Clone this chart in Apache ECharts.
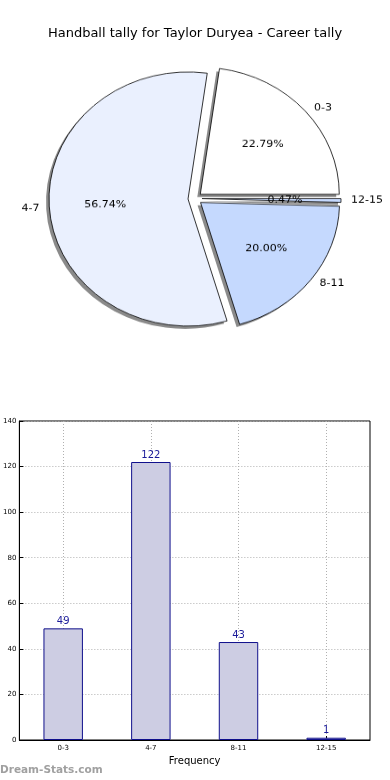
<!DOCTYPE html>
<html>
<head>
<meta charset="utf-8">
<script src="https://cdn.jsdelivr.net/npm/echarts@6/dist/echarts.min.js"></script>
<style>
html,body{margin:0;padding:0;background:#fff;}
#main{position:absolute;left:0;top:0;width:390px;height:780px;}
#pie{position:absolute;left:0;top:0;width:390px;height:400px;transform-origin:50% 200px;transform:scaleY(0.914);}
</style>
</head>
<body>
<div id="main"></div>
<div id="pie"></div>
<script>
const titleText = 'Handball tally for Taylor Duryea - Career tally';
const categories = ['0-3', '4-7', '8-11', '12-15'];
const counts = [49, 122, 43, 1];
const sliceColors = ['#ffffff', '#eaf0fe', '#c5d9fe', '#c5d9fe'];
const yTicks = [0, 20, 40, 60, 80, 100, 120, 140];
const xLabel = 'Frequency';
const watermark = 'Dream-Stats.com';

const FONT = 'DejaVu Sans';

// ---------- bar chart + title ----------
const main = echarts.init(document.getElementById('main'), null, {renderer: 'canvas'});
main.setOption({
  animation: false,
  textStyle: {fontFamily: FONT},
  title: {
    text: titleText, left: 'center', top: 22,
    textStyle: {fontFamily: FONT, fontSize: 13, fontWeight: 'normal', color: '#000'}
  },
  graphic: [{
    type: 'text', left: 0, top: 765,
    style: {text: watermark, fill: '#a0a0a0', font: 'bold 10.5px "DejaVu Sans"'}
  }],
  grid: {left: 19, right: 20, top: 421, bottom: 40, show: true, borderColor: '#000', borderWidth: 1, backgroundColor: 'transparent'},
  xAxis: {
    type: 'category', data: categories,
    name: xLabel, nameLocation: 'middle', nameGap: 16,
    nameTextStyle: {fontFamily: FONT, fontSize: 10, color: '#000'},
    axisLine: {lineStyle: {color: '#000'}},
    axisTick: {show: true, alignWithLabel: true, inside: true, length: 4, lineStyle: {color: '#000'}},
    axisLabel: {fontFamily: FONT, fontSize: 7, color: '#000', margin: 5},
    splitLine: {show: true, alignWithLabel: true, lineStyle: {color: '#b0b0b0', type: [1, 2]}}
  },
  yAxis: {
    type: 'value', min: 0, max: 140, interval: 20,
    axisLine: {show: true, lineStyle: {color: '#000'}},
    axisTick: {show: true, inside: true, length: 4, lineStyle: {color: '#000'}},
    axisLabel: {fontFamily: FONT, fontSize: 7, color: '#000', margin: 3,
      formatter: v => yTicks.indexOf(v) >= 0 ? String(v) : ''},
    splitLine: {show: true, lineStyle: {color: '#b0b0b0', type: [1, 2]}}
  },
  series: [{
    type: 'bar', data: counts, barWidth: '45%',
    itemStyle: {color: '#cdcde3', borderColor: '#10108c', borderWidth: 1},
    label: {show: true, position: 'top', distance: 2, fontFamily: FONT, fontSize: 10, color: '#1a1a99'}
  }]
});

// ---------- pie (elliptical via vertical scale of its container) ----------
const pie = echarts.init(document.getElementById('pie'), null, {renderer: 'canvas'});
const CX = 195, CY = 198.4, R = 139;
const baseStyle = {borderColor: '#000', borderWidth: 0.8};
function pieData(withColor, shadow) {
  return categories.map((c, i) => ({
    name: c, value: counts[i], selected: true,
    itemStyle: shadow ? {color: '#8a8a8a', borderWidth: 0}
             : withColor ? Object.assign({color: sliceColors[i]}, baseStyle)
             : {color: 'rgba(0,0,0,0)', borderWidth: 0}
  }));
}
const common = {
  type: 'pie', clockwise: false, startAngle: 0, selectedMode: 'multiple',
  selectedOffset: 7, avoidLabelOverlap: false, silent: true,
  emphasis: {disabled: true}, minAngle: 0
};
pie.setOption({
  animation: false,
  series: [
    Object.assign({}, common, {
      name: 'shadow', center: [CX - 3, CY + 3], radius: [0, R],
      data: pieData(false, true), label: {show: false}, labelLine: {show: false},
      select: {itemStyle: {color: '#8a8a8a', borderWidth: 0}}
    }),
    Object.assign({}, common, {
      name: 'slices', center: [CX, CY], radius: [0, R],
      data: pieData(true, false),
      label: {show: true, position: 'outside', fontFamily: FONT, fontSize: 11, color: '#000', formatter: '{b}'},
      labelLine: {show: false, length: 5, length2: 0}
    }),
    Object.assign({}, common, {
      name: 'pct', center: [CX, CY], radius: [0, R * 1.15],
      data: pieData(false, false),
      label: {show: true, position: 'inside', fontFamily: FONT, fontSize: 11, color: '#000',
        formatter: p => p.percent.toFixed(2) + '%'},
      labelLine: {show: false},
      select: {itemStyle: {color: 'rgba(0,0,0,0)', borderWidth: 0}}
    })
  ]
});
</script>
</body>
</html>
